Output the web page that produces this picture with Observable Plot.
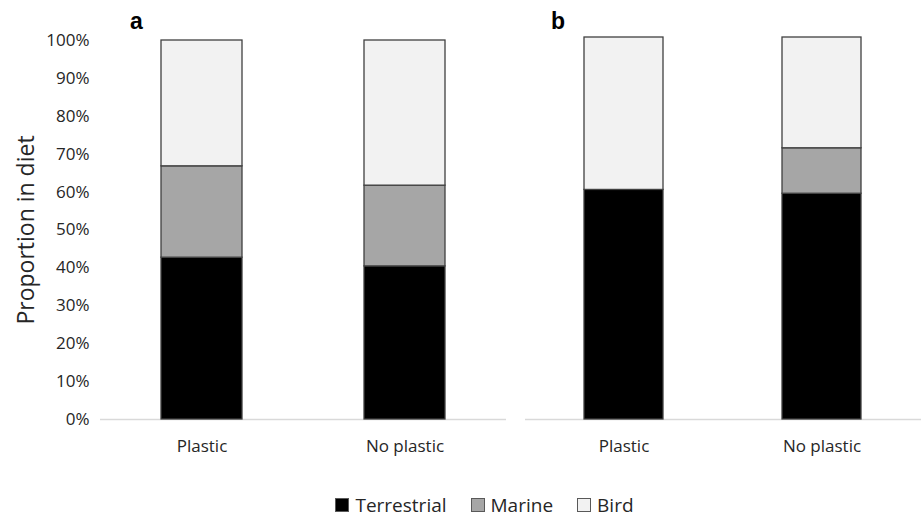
<!DOCTYPE html>
<html>
<head>
<meta charset="utf-8">
<script src="https://cdn.jsdelivr.net/npm/d3@7"></script>
<script src="https://cdn.jsdelivr.net/npm/@observablehq/plot@0.6"></script>
<style>
  body { margin: 0; background: #fff; }
  #wrap { position: relative; width: 921px; height: 520px; overflow: hidden; font-family: "Open Sans", sans-serif; }
  .panel { position: absolute; top: 0; }
  .plabel { position: absolute; font-family: "Liberation Sans", Arial, sans-serif; font-weight: bold; font-size: 23px; color: #000; }
  #legend { position: absolute; top: 495px; left: 24px; width: 921px; height: 20px; line-height: 20px; display: flex; justify-content: center; align-items: center; font-size: 19px; color: #262626; }
  .item { display: flex; align-items: center; margin: 0 12px; }
  .sw { width: 12px; height: 12px; border: 1px solid #595959; margin-right: 6px; }
</style>
</head>
<body>
<div id="wrap">
  <div id="pa" class="panel" style="left:0"></div>
  <div id="pb" class="panel" style="left:515px"></div>
  <div class="plabel" style="left:130px; top:8px">a</div>
  <div class="plabel" style="left:551px; top:8px">b</div>
  <div id="legend"></div>
</div>
<script>
const groups = ["Plastic", "No plastic"];
const components = ["Terrestrial", "Marine", "Bird"];
const colors = ["#000000", "#a6a6a6", "#f2f2f2"];
const yTicks = [0, 10, 20, 30, 40, 50, 60, 70, 80, 90, 100];

// Panel a (percent)
const terrestrialA = [42.7, 40.4];
const marineA = [24.1, 21.3];
const birdA = [33.2, 38.3];
// Panel b (percent)
const terrestrialB = [60.1, 59.1];
const marineB = [0, 11.9];
const birdB = [39.9, 29.0];

function rows(t, m, b) {
  const out = [];
  groups.forEach((g, i) => {
    out.push({group: g, comp: "Terrestrial", value: t[i]});
    out.push({group: g, comp: "Marine", value: m[i]});
    out.push({group: g, comp: "Bird", value: b[i]});
  });
  return out.filter(d => d.value > 0);
}

const common = (data) => [
  Plot.ruleY([0], {stroke: "#d9d9d9", strokeWidth: 1.5}),
  Plot.barY(data, {
    x: "group", y: "value", fill: "comp",
    order: components,
    stroke: "#404040", strokeWidth: 1.3
  }),
  Plot.axisX({tickSize: 0, tickPadding: 20, fontSize: 17, fill: "#262626", label: null})
];

const colorOpt = {domain: components, range: colors};

const pa = Plot.plot({
  width: 515, height: 460,
  marginLeft: 100, marginRight: 9, marginTop: 40, marginBottom: 41,
  style: {fontFamily: "Open Sans, sans-serif", color: "#262626", background: "transparent"},
  x: {domain: groups, paddingInner: 0.6, paddingOuter: 0.3},
  y: {domain: [0, 100]},
  color: colorOpt,
  marks: [
    ...common(rows(terrestrialA, marineA, birdA)),
    Plot.axisY({ticks: yTicks, tickSize: 0, tickPadding: 11, fontSize: 17, fill: "#262626", tickFormat: d => d + "%", label: null}),
    Plot.text(["Proportion in diet"], {frameAnchor: "left", dx: -74, rotate: -90, textAnchor: "middle", fontSize: 23, fill: "#262626", text: d => d})
  ]
});
document.getElementById("pa").appendChild(pa);

const pb = Plot.plot({
  width: 406, height: 460,
  marginLeft: 10, marginRight: 0, marginTop: 37, marginBottom: 41,
  style: {fontFamily: "Open Sans, sans-serif", color: "#262626", background: "transparent"},
  x: {domain: groups, paddingInner: 0.6, paddingOuter: 0.3},
  y: {domain: [0, 100], axis: null},
  color: colorOpt,
  marks: common(rows(terrestrialB, marineB, birdB))
});
document.getElementById("pb").appendChild(pb);

const leg = document.getElementById("legend");
components.forEach((c, i) => {
  const it = document.createElement("div");
  it.className = "item";
  it.innerHTML = `<span class="sw" style="background:${colors[i]}"></span><span>${c}</span>`;
  leg.appendChild(it);
});
</script>
</body>
</html>
